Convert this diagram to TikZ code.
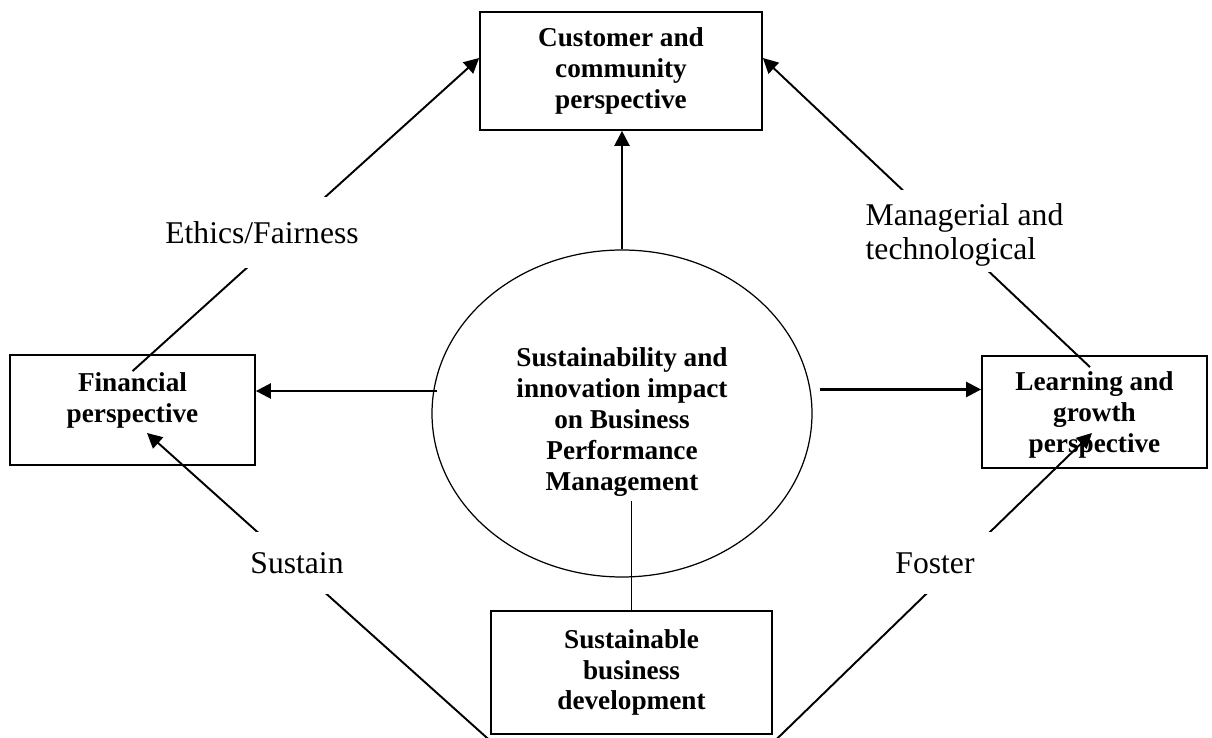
\documentclass[tikz,border=0pt]{standalone}
\usepackage{fontspec}
\setmainfont{Liberation Serif}
\usetikzlibrary{arrows.meta,calc,positioning,shapes.geometric}

\begin{document}
\begin{tikzpicture}[
      persp/.style={draw, line width=1pt, align=center, inner sep=2pt, font=\fontsize{15.5}{17.6}\selectfont\bfseries},
      hub/.style={draw, ellipse, line width=0.7pt, minimum width=7.6cm, minimum height=6.54cm, inner sep=0pt, align=center, font=\fontsize{15.5}{17.6}\selectfont\bfseries},
      tag/.style={fill=white, inner sep=0pt, font=\fontsize{18}{19.6}\selectfont},
      arr/.style={-{Triangle[length=0.3cm,width=0.3cm]}, line width=1.4pt},
      lnk/.style={line width=1.1pt}
    ]
      \useasboundingbox (0,0) rectangle (24.24,-14.76);

      % the four perspectives and the hub
      \node[persp, minimum width=5.64cm, minimum height=2.36cm] (cust) at (12.42,-1.42) {Customer and\\community\\perspective};
      \node[persp, minimum width=4.9cm, minimum height=2.2cm] (fin) at (2.65,-8.2) {Financial\\perspective\rule[-0.48cm]{0pt}{0.48cm}};
      \node[persp, minimum width=4.5cm, minimum height=2.24cm] (learn) at (21.89,-8.24) {\rule{0pt}{0.5cm}Learning and\\growth\\perspective};
      \node[persp, minimum width=5.62cm, minimum height=2.46cm] (sbd) at (12.63,-13.45) {Sustainable\\business\\development};
      \node[hub] (core) at (12.44,-8.27) {\rule{0pt}{0.71cm}Sustainability and\\innovation impact\\on Business\\Performance\\Management};

      % spokes out of the hub
      \draw[arr] (core.north) -- (core.north |- cust.south);
      \draw[arr] ([shift={(0.12,0.45)}]core.west) coordinate (lstart) -- (lstart -| fin.east);
      \draw[arr] ([shift={(0.14,0.48)}]core.east) coordinate (rstart) -- (rstart -| learn.west);
      \draw[lnk] (sbd.north) -- ++(0,2.18);

      % outer links, cut by the white label boxes below
      \draw[arr, line width=1.1pt] ([yshift=-0.34cm]fin.north) -- ([yshift=0.26cm]cust.west);
      \draw[arr, line width=1.1pt] ([shift={(-0.09,-0.24)}]learn.north) -- ([yshift=0.26cm]cust.east);
      \draw[arr, line width=1.1pt] ([shift={(-0.04,-0.08)}]sbd.south west) -- ([shift={(0.29,-0.46)}]fin.center);
      \draw[arr, line width=1.1pt] ([shift={(0.08,-0.08)}]sbd.south east) -- ([shift={(-0.05,-0.42)}]learn.center);

      \node[tag, minimum width=4.3cm, minimum height=1.42cm] (ethics) at (5.24,-4.65) {Ethics/Fairness};
      \node[tag, minimum width=4.2cm, minimum height=1.64cm, align=left] (mgr) at (19.29,-4.62) {\rule{0pt}{0.6cm}Managerial and\\technological};
      \node[tag, minimum width=2.4cm, minimum height=1.24cm] (sust) at (5.94,-11.26) {Sustain};
      \node[tag, minimum width=2.6cm, minimum height=1.24cm] (fost) at (18.7,-11.26) {Foster};
    \end{tikzpicture}
\end{document}
